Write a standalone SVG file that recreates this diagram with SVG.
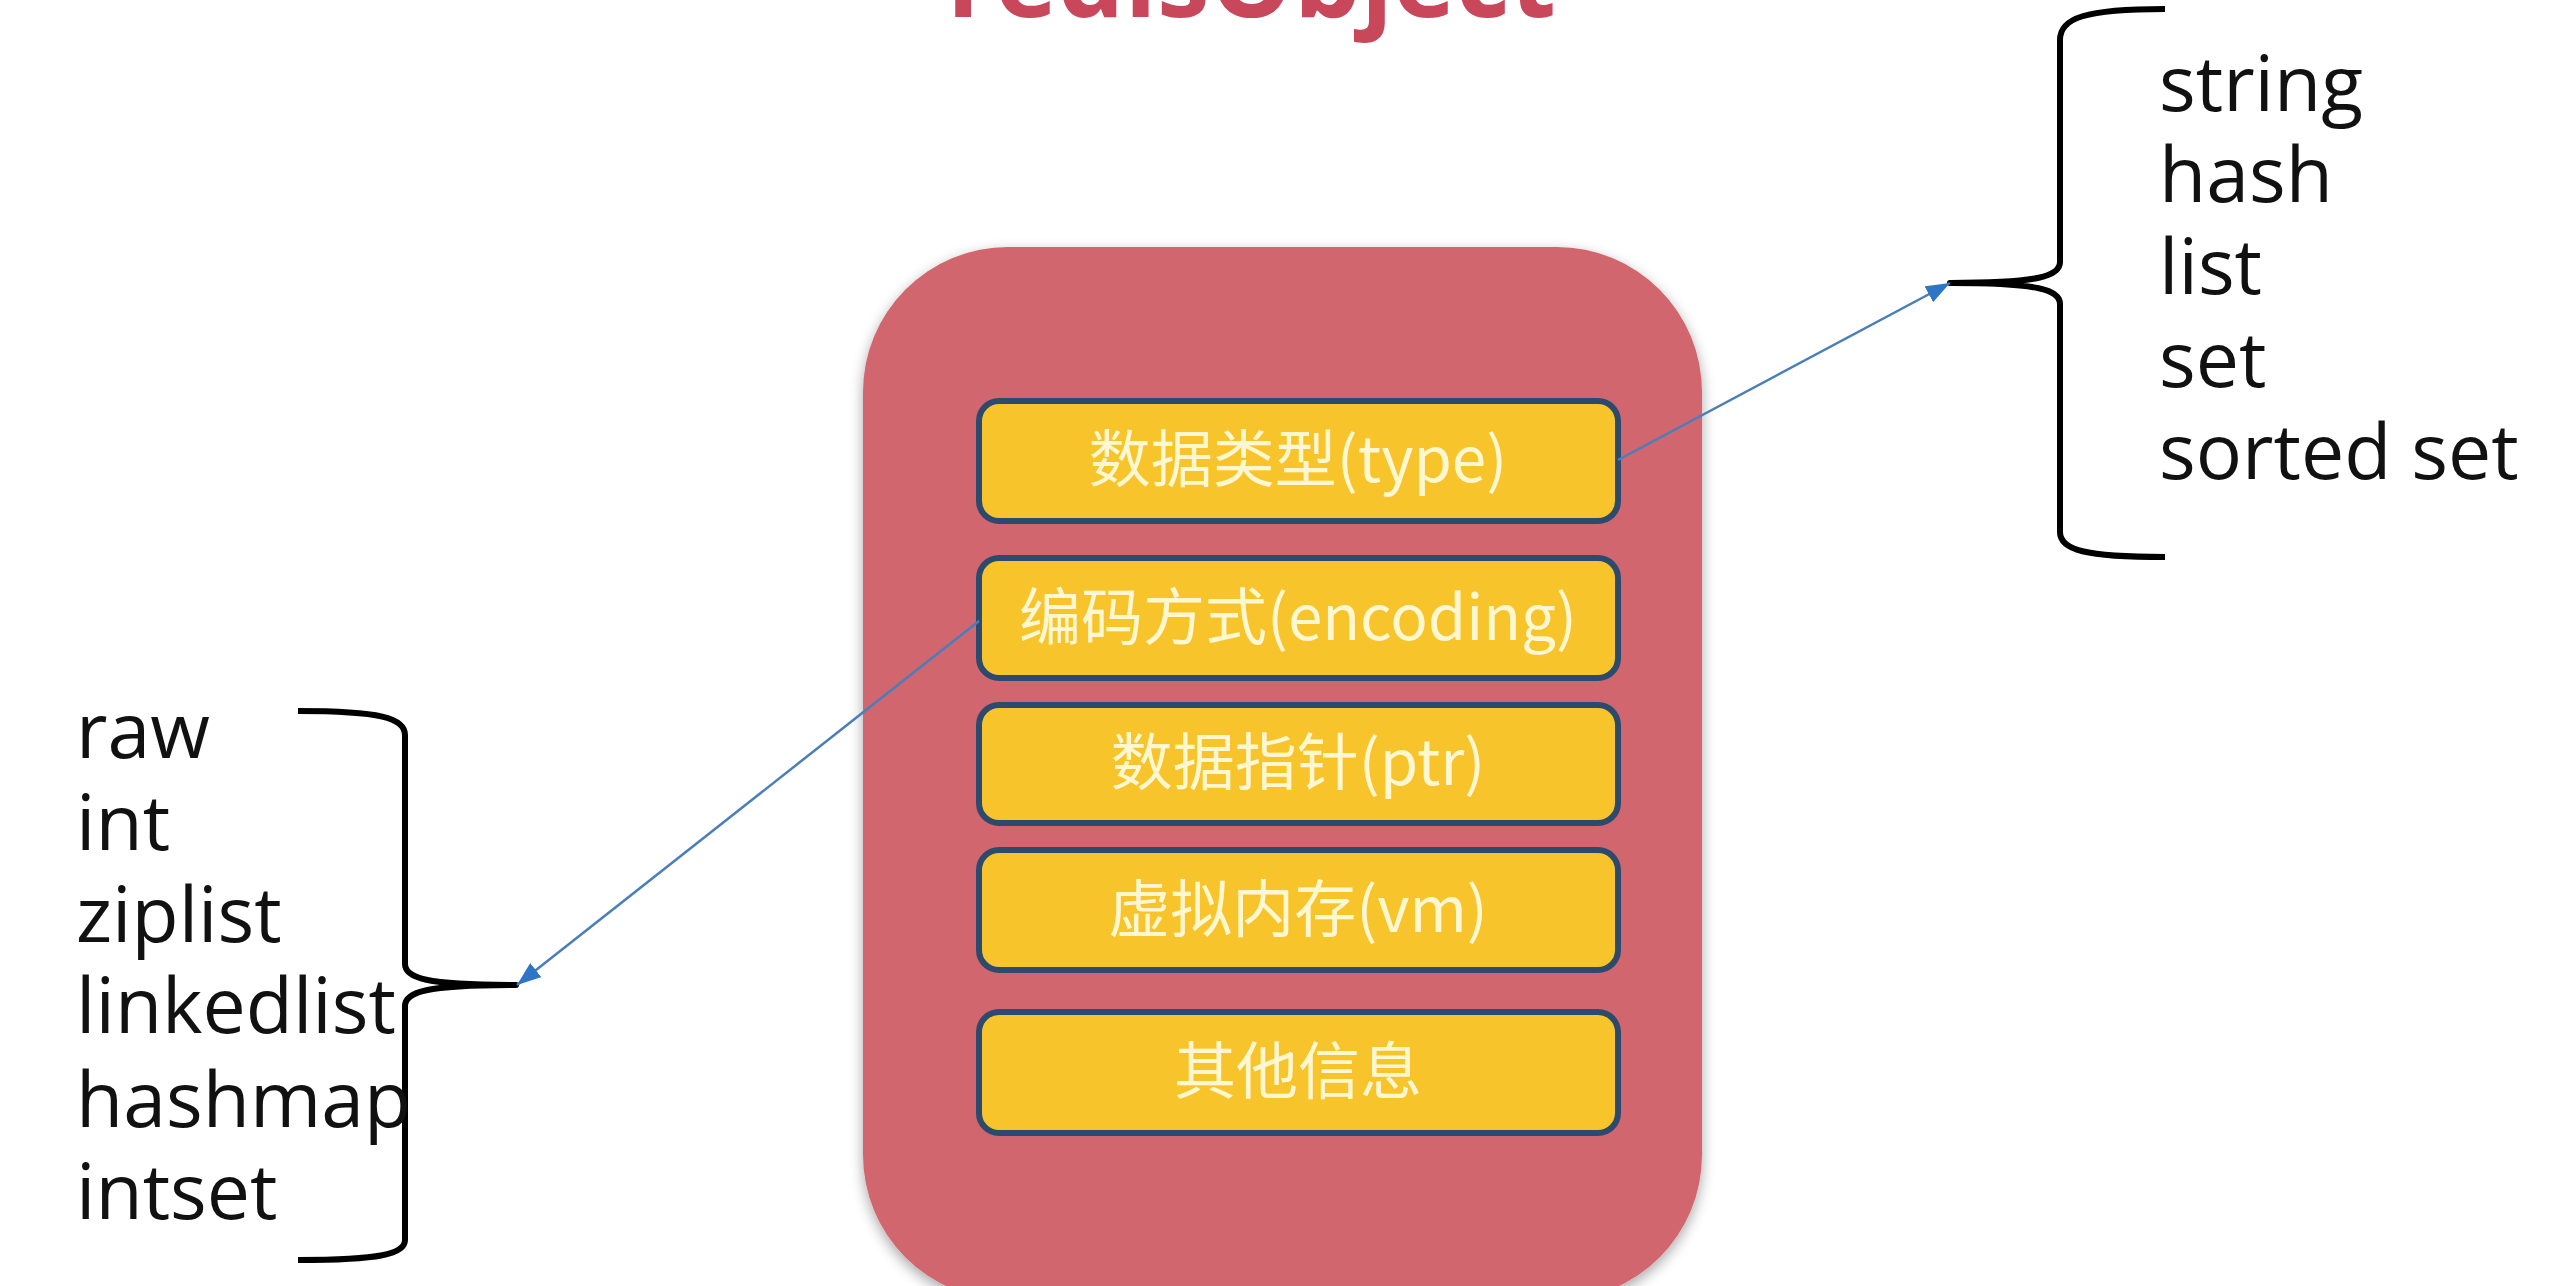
<svg xmlns="http://www.w3.org/2000/svg" width="2568" height="1286" viewBox="0 0 2568 1286">
  <defs>
    <style>
      .title { font-family: "Open Sans", "Noto Sans", sans-serif; font-weight: 700; font-size: 110px; fill: #C8475B; }
      .field rect { fill: #F7C42C; stroke: #2B4A6E; stroke-width: 6; }
      .field text { font-family: "Noto Sans CJK SC", "Noto Sans", sans-serif; font-size: 62px; fill: #FFF7CF; text-anchor: middle; }
      .item { font-family: "Open Sans", "Noto Sans", sans-serif; font-size: 77px; fill: #111111; }
      .brace { fill: none; stroke: #000000; stroke-width: 6; stroke-linecap: butt; stroke-linejoin: round; }
      .conn { fill: none; stroke: #4A7EBB; stroke-width: 2.5; }
    </style>
    <marker id="arrow" viewBox="0 0 10 10" refX="10" refY="5" markerWidth="9" markerHeight="9" markerUnits="userSpaceOnUse" orient="auto">
      <path d="M0,0 L10,5 L0,10 Z" fill="#2E75C6"/>
    </marker>
    <marker id="arrowhead" viewBox="0 0 24 18" refX="24" refY="9" markerWidth="24" markerHeight="18" markerUnits="userSpaceOnUse" orient="auto">
      <path d="M0,0 L24,9 L0,18 Z" fill="#2E75C6"/>
    </marker>
    <filter id="shadow" x="-10%" y="-10%" width="120%" height="120%">
      <feGaussianBlur in="SourceAlpha" stdDeviation="7"/>
      <feOffset dx="0" dy="5" result="b"/>
      <feComponentTransfer><feFuncA type="linear" slope="0.35"/></feComponentTransfer>
      <feMerge><feMergeNode/><feMergeNode in="SourceGraphic"/></feMerge>
    </filter>
  </defs>

  <rect width="2568" height="1286" fill="#FFFFFF"/>

  <text class="title" x="947" y="17" textLength="609" lengthAdjust="spacingAndGlyphs">redisObject</text>

  <g id="redisObject">
    <rect x="863" y="247" width="839" height="1053" rx="145" ry="145" fill="#D2666E" filter="url(#shadow)"/>
  </g>

  <g id="field-type" class="field">
    <rect x="979" y="401" width="639" height="120" rx="20"/>
    <text x="1298" y="482">数据类型(type)</text>
  </g>
  <g id="field-encoding" class="field">
    <rect x="979" y="558" width="639" height="120" rx="20"/>
    <text x="1298" y="640">编码方式(encoding)</text>
  </g>
  <g id="field-ptr" class="field">
    <rect x="979" y="705" width="639" height="118" rx="20"/>
    <text x="1298" y="785">数据指针(ptr)</text>
  </g>
  <g id="field-vm" class="field">
    <rect x="979" y="850" width="639" height="120" rx="20"/>
    <text x="1298" y="932">虚拟内存(vm)</text>
  </g>
  <g id="field-other" class="field">
    <rect x="979" y="1012" width="639" height="121" rx="20"/>
    <text x="1298" y="1094">其他信息</text>
  </g>

  <g id="types">
    <path class="brace" d="M2165,9 C2085,9 2060,18 2060,40 L2060,262 C2060,276 2040,283 1950,283 C2040,283 2060,290 2060,304 L2060,532 C2060,550 2085,557 2165,557"/>
    <text class="item" x="2159" y="111">string</text>
    <text class="item" x="2159" y="202">hash</text>
    <text class="item" x="2159" y="294">list</text>
    <text class="item" x="2159" y="387">set</text>
    <text class="item" x="2159" y="479">sorted set</text>
  </g>

  <g id="encodings">
    <path class="brace" d="M298,711 C380,711 405,718 405,735 L405,964 C405,978 425,985 516,985 C425,985 405,992 405,1006 L405,1240 C405,1254 380,1260 298,1260"/>
    <text class="item" x="76" y="758">raw</text>
    <text class="item" x="76" y="850">int</text>
    <text class="item" x="76" y="942">ziplist</text>
    <text class="item" x="76" y="1033">linkedlist</text>
    <text class="item" x="76" y="1127">hashmap</text>
    <text class="item" x="76" y="1219">intset</text>
  </g>

  <g id="connectors">
    <line class="conn" x1="1618" y1="460" x2="1950" y2="283" marker-end="url(#arrowhead)"/>
    <line class="conn" x1="979" y1="621" x2="517" y2="985" marker-end="url(#arrowhead)"/>
  </g>
</svg>
